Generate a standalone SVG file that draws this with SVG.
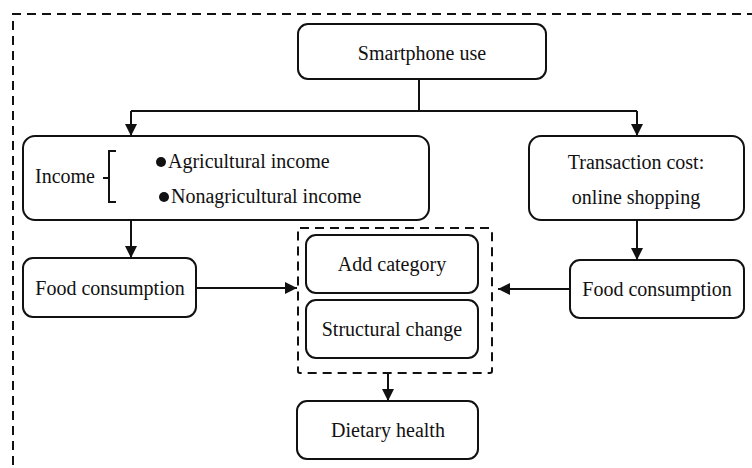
<svg xmlns="http://www.w3.org/2000/svg" width="752" height="468" viewBox="0 0 752 468">
<style>
.box{fill:#fff;stroke:#111;stroke-width:2}
.dash{fill:none;stroke:#111;stroke-width:2;stroke-dasharray:9 6}
.ln{fill:none;stroke:#111;stroke-width:2}
text{font-family:"Liberation Serif","Times New Roman",serif;font-size:20px;fill:#111}
.c{text-anchor:middle}
</style>
<defs>
<marker id="ah" viewBox="0 0 10 10" refX="10" refY="5" markerWidth="6" markerHeight="6" markerUnits="strokeWidth" orient="auto">
<path d="M0,0 L10,5 L0,10 Z" fill="#111"/>
</marker>
</defs>
<rect width="752" height="468" fill="#fff"/>
<path class="dash" d="M13,480 V14 H760"/>
<g id="connectors">
<path class="ln" d="M419,79 V111"/>
<path class="ln" d="M131,111 H637"/>
<path class="ln" d="M131,111 V136" marker-end="url(#ah)"/>
<path class="ln" d="M637,111 V136" marker-end="url(#ah)"/>
<path class="ln" d="M131,220 V258" marker-end="url(#ah)"/>
<path class="ln" d="M637,220 V260" marker-end="url(#ah)"/>
<path class="ln" d="M196,288 H297" marker-end="url(#ah)"/>
<path class="ln" d="M570,289 H498" marker-end="url(#ah)"/>
<path class="ln" d="M388,373 V401" marker-end="url(#ah)"/>
</g>
<g id="smartphone">
<rect class="box" x="298" y="24" width="248" height="55" rx="10"/>
<text class="c" x="422" y="60">Smartphone use</text>
</g>
<g id="income">
<rect class="box" x="23" y="136" width="406" height="84" rx="12"/>
<text x="35" y="183">Income</text>
<path class="ln" d="M103,178 H109 M116,151 H109 V202 H116"/>
<circle cx="161" cy="162" r="5" fill="#111"/>
<text x="168" y="168">Agricultural income</text>
<circle cx="164" cy="197" r="5" fill="#111"/>
<text x="171" y="203">Nonagricultural income</text>
</g>
<g id="transaction">
<rect class="box" x="529" y="136" width="215" height="84" rx="12"/>
<text class="c" x="636" y="169">Transaction cost:</text>
<text class="c" x="636" y="204">online shopping</text>
</g>
<g id="food-left">
<rect class="box" x="23" y="258" width="173" height="59" rx="10"/>
<text class="c" x="110" y="295">Food consumption</text>
</g>
<g id="food-right">
<rect class="box" x="570" y="260" width="174" height="58" rx="10"/>
<text class="c" x="657" y="296">Food consumption</text>
</g>
<g id="effects">
<rect class="dash" x="298" y="228" width="194" height="145" rx="2"/>
<g id="add-category">
<rect class="box" x="306" y="235" width="172" height="58" rx="10"/>
<text class="c" x="392" y="271">Add category</text>
</g>
<g id="structural-change">
<rect class="box" x="306" y="300" width="172" height="58" rx="10"/>
<text class="c" x="392" y="336">Structural change</text>
</g>
</g>
<g id="dietary">
<rect class="box" x="297" y="401" width="181" height="58" rx="10"/>
<text class="c" x="388" y="437">Dietary health</text>
</g>
</svg>
